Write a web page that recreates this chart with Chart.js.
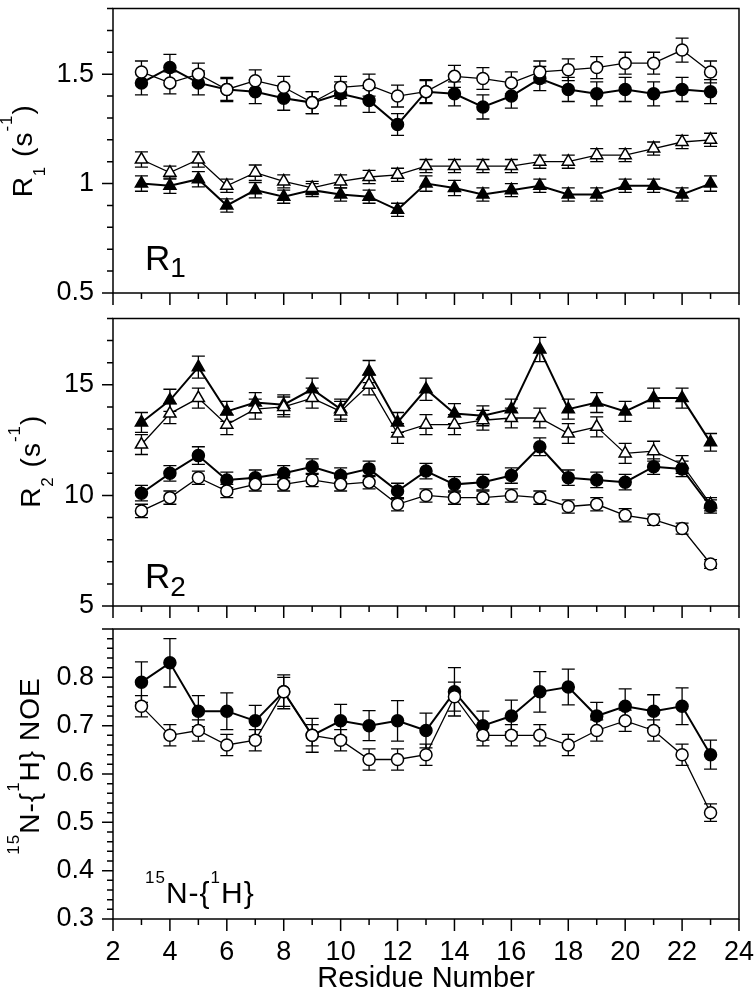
<!DOCTYPE html>
<html>
<head>
<meta charset="utf-8">
<script src="https://cdn.jsdelivr.net/npm/chart.js@4.4.1/dist/chart.umd.min.js"></script>
<style>
  html, body { margin: 0; padding: 0; background: #fff; }
  #wrap { position: relative; width: 756px; height: 993px; }
  canvas { position: absolute; left: 0; }
</style>
</head>
<body>
<div id="wrap">
  <canvas id="c1" width="756" height="310" style="top:0px"></canvas>
  <canvas id="c2" width="756" height="310" style="top:310px"></canvas>
  <canvas id="c3" width="756" height="373" style="top:620px"></canvas>
</div>
<script>
const residues = [3, 4, 5, 6, 7, 8, 9, 10, 11, 12, 13, 14, 15, 16, 17, 18, 19, 20, 21, 22, 23];

// R1 panel
const r1OpenCircle = [1.51, 1.46, 1.50, 1.43, 1.47, 1.44, 1.37, 1.44, 1.45, 1.40, 1.42, 1.49, 1.48, 1.46, 1.51, 1.52, 1.53, 1.55, 1.55, 1.61, 1.51];
const r1OpenCircleErr = [0.05, 0.05, 0.05, 0.05, 0.05, 0.05, 0.05, 0.05, 0.05, 0.05, 0.05, 0.05, 0.05, 0.05, 0.05, 0.05, 0.05, 0.05, 0.05, 0.055, 0.05];
const r1FilledCircle = [1.46, 1.53, 1.46, 1.43, 1.42, 1.39, 1.37, 1.41, 1.38, 1.27, 1.42, 1.41, 1.35, 1.40, 1.48, 1.43, 1.41, 1.43, 1.41, 1.43, 1.42];
const r1FilledCircleErr = [0.055, 0.06, 0.055, 0.055, 0.055, 0.055, 0.05, 0.055, 0.055, 0.05, 0.055, 0.055, 0.055, 0.055, 0.055, 0.055, 0.055, 0.055, 0.055, 0.055, 0.055];
const r1OpenTri = [1.11, 1.05, 1.11, 0.99, 1.05, 1.01, 0.98, 1.01, 1.03, 1.04, 1.08, 1.08, 1.08, 1.08, 1.10, 1.10, 1.13, 1.13, 1.16, 1.19, 1.20];
const r1OpenTriErr = [0.035, 0.03, 0.035, 0.03, 0.035, 0.03, 0.03, 0.03, 0.03, 0.03, 0.03, 0.03, 0.03, 0.03, 0.03, 0.03, 0.03, 0.03, 0.03, 0.03, 0.03];
const r1FilledTri = [1.00, 0.99, 1.02, 0.90, 0.97, 0.94, 0.97, 0.95, 0.94, 0.88, 1.00, 0.98, 0.95, 0.97, 0.99, 0.95, 0.95, 0.99, 0.99, 0.95, 1.00];
const r1FilledTriErr = [0.035, 0.035, 0.035, 0.03, 0.035, 0.03, 0.03, 0.03, 0.03, 0.03, 0.035, 0.035, 0.03, 0.03, 0.03, 0.03, 0.03, 0.03, 0.03, 0.03, 0.035];

// R2 panel
const r2OpenCircle = [9.3, 9.9, 10.8, 10.2, 10.5, 10.5, 10.7, 10.5, 10.6, 9.6, 10.0, 9.9, 9.9, 10.0, 9.9, 9.5, 9.6, 9.1, 8.9, 8.5, 6.9];
const r2OpenCircleErr = [0.3, 0.3, 0.3, 0.3, 0.3, 0.3, 0.3, 0.3, 0.3, 0.3, 0.3, 0.3, 0.3, 0.3, 0.3, 0.3, 0.3, 0.3, 0.25, 0.25, 0.2];
const r2FilledCircle = [10.1, 11.0, 11.8, 10.7, 10.8, 11.0, 11.3, 10.9, 11.2, 10.2, 11.1, 10.5, 10.6, 10.9, 12.2, 10.8, 10.7, 10.6, 11.3, 11.2, 9.5];
const r2FilledCircleErr = [0.35, 0.35, 0.4, 0.35, 0.35, 0.35, 0.35, 0.35, 0.35, 0.35, 0.35, 0.35, 0.35, 0.35, 0.4, 0.35, 0.35, 0.35, 0.35, 0.35, 0.3];
const r2OpenTri = [12.3, 13.7, 14.4, 13.2, 13.9, 14.0, 14.4, 13.8, 15.0, 12.8, 13.2, 13.2, 13.4, 13.5, 13.5, 12.8, 13.1, 11.9, 12.0, 11.4, 9.6];
const r2OpenTriErr = [0.45, 0.45, 0.45, 0.45, 0.45, 0.45, 0.45, 0.45, 0.45, 0.45, 0.45, 0.45, 0.45, 0.45, 0.45, 0.45, 0.45, 0.45, 0.45, 0.4, 0.3];
const r2FilledTri = [13.3, 14.3, 15.8, 13.8, 14.2, 14.1, 14.8, 13.9, 15.6, 13.3, 14.8, 13.7, 13.6, 13.9, 16.6, 13.9, 14.2, 13.8, 14.4, 14.4, 12.4];
const r2FilledTriErr = [0.45, 0.5, 0.5, 0.45, 0.45, 0.45, 0.5, 0.45, 0.5, 0.45, 0.5, 0.45, 0.45, 0.45, 0.55, 0.45, 0.45, 0.45, 0.45, 0.45, 0.4];

// NOE panel
const noeOpenCircle = [0.74, 0.68, 0.69, 0.66, 0.67, 0.77, 0.68, 0.67, 0.63, 0.63, 0.64, 0.76, 0.68, 0.68, 0.68, 0.66, 0.69, 0.71, 0.69, 0.64, 0.52];
const noeOpenCircleErr = [0.022, 0.022, 0.022, 0.022, 0.022, 0.03, 0.022, 0.022, 0.022, 0.022, 0.022, 0.03, 0.022, 0.022, 0.022, 0.022, 0.022, 0.022, 0.022, 0.022, 0.018];
const noeFilledCircle = [0.79, 0.83, 0.73, 0.73, 0.71, 0.77, 0.68, 0.71, 0.70, 0.71, 0.69, 0.77, 0.70, 0.72, 0.77, 0.78, 0.72, 0.74, 0.73, 0.74, 0.64];
const noeFilledCircleErr = [0.042, 0.05, 0.032, 0.038, 0.032, 0.035, 0.035, 0.034, 0.031, 0.042, 0.036, 0.05, 0.03, 0.033, 0.042, 0.037, 0.028, 0.036, 0.034, 0.038, 0.03];

// axis ranges and text
const xRange = { min: 2, max: 24, major: 2 };
const r1Axis = { min: 0.5, max: 1.8, major: 0.5, minor: 0.1, labelMax: 1.5 };
const r2Axis = { min: 5, max: 18, major: 5, minor: 1, labelMax: 15 };
const noeAxis = { min: 0.3, max: 0.9, major: 0.1, minor: 0.02, labelMax: 0.8 };
const xTitle = 'Residue Number';
// [text, 0 = normal, 1 = subscript, -1 = superscript]
const r1Title = [['R', 0], ['1', 1], [' (s', 0], ['-1', -1], [')', 0]];
const r2Title = [['R', 0], ['2', 1], [' (s', 0], ['-1', -1], [')', 0]];
const noeTitle = [['15', -1], ['N-{', 0], ['1', -1], ['H} NOE', 0]];
const r1Label = [['R', 0], ['1', 1]];
const r2Label = [['R', 0], ['2', 1]];
const noeLabel = [['15', -1], ['N-{', 0], ['1', -1], ['H}', 0]];

const FAM = '"Liberation Sans", Arial, Helvetica, sans-serif';

function drawRich(ctx, parts, x, y, st, align) {
  const fontOf = k => (k === 0 ? st.size : st.small) + 'px ' + FAM;
  ctx.letterSpacing = (st.spacing || 0) + 'px';
  let w = 0;
  parts.forEach(p => { ctx.font = fontOf(p[1]); w += ctx.measureText(p[0]).width; });
  let cx = align === 'center' ? x - w / 2 : x;
  ctx.textAlign = 'left';
  ctx.textBaseline = 'alphabetic';
  parts.forEach(p => {
    ctx.font = fontOf(p[1]);
    const dy = p[1] === 1 ? st.sub : (p[1] === -1 ? st.sup : 0);
    ctx.fillText(p[0], cx, y + dy);
    cx += ctx.measureText(p[0]).width;
  });
  ctx.letterSpacing = '0px';
}

const decor = {
  id: 'decor',
  beforeDatasetsDraw(chart, args, o) {
    const { ctx, scales: { x, y } } = chart;
    ctx.save();
    ctx.strokeStyle = '#000';
    ctx.lineWidth = 1.3;
    chart.data.datasets.forEach(ds => {
      ds.data.forEach((p, i) => {
        const e = ds.errors[i];
        const px = x.getPixelForValue(p.x);
        const t = y.getPixelForValue(p.y + e);
        const b = y.getPixelForValue(p.y - e);
        ctx.beginPath();
        ctx.moveTo(px, t); ctx.lineTo(px, b);
        ctx.moveTo(px - 6.5, t); ctx.lineTo(px + 6.5, t);
        ctx.moveTo(px - 6.5, b); ctx.lineTo(px + 6.5, b);
        ctx.stroke();
      });
    });
    ctx.restore();
  },
  afterDraw(chart, args, o) {
    const { ctx, chartArea: a, scales: { x, y } } = chart;
    const ax = o.axis;
    ctx.save();
    ctx.strokeStyle = '#000';
    ctx.fillStyle = '#000';
    ctx.lineWidth = 1.5;
    ctx.strokeRect(a.left, a.top, a.right - a.left, a.bottom - a.top);

    // y ticks
    ctx.beginPath();
    const n = Math.round((ax.max - ax.min) / ax.minor);
    for (let k = 0; k <= n; k++) {
      const py = y.getPixelForValue(ax.min + k * ax.minor);
      const len = k % 5 === 0 ? 11 : 6;
      ctx.moveTo(a.left - len, py); ctx.lineTo(a.left, py);
    }
    // x ticks
    for (let v = xRange.min; v <= xRange.max; v++) {
      const px = x.getPixelForValue(v);
      const len = v % xRange.major === 0 ? 12 : 6;
      ctx.moveTo(px, a.bottom); ctx.lineTo(px, a.bottom + len);
    }
    ctx.stroke();

    // y title, rotated
    ctx.save();
    ctx.translate(o.titleX, (a.top + a.bottom) / 2 + o.titleShift);
    ctx.rotate(-Math.PI / 2);
    drawRich(ctx, o.title, 0, 0, { size: 28, small: 17, sub: 13, sup: -20, spacing: 1 }, 'center');
    ctx.restore();

    // panel label
    drawRich(ctx, o.label, o.labelX, o.labelY, o.labelStyle, 'left');
    ctx.restore();
  }
};

function makeChart(id, cfg) {
  const tickFont = { family: FAM, size: 27 };
  return new Chart(document.getElementById(id), {
    type: 'line',
    data: {
      datasets: cfg.series.map(s => ({
        data: residues.map((r, i) => ({ x: r, y: s.values[i] })),
        errors: s.errors,
        borderColor: '#000',
        borderWidth: s.filled ? 2 : 1.3,
        pointStyle: s.shape,
        pointRadius: s.shape === 'triangle' ? 7 : 6,
        pointHoverRadius: s.shape === 'triangle' ? 7 : 6,
        pointBackgroundColor: s.filled ? '#000' : '#fff',
        pointBorderColor: '#000',
        pointBorderWidth: 1.5,
        fill: false,
        tension: 0,
        clip: false
      }))
    },
    options: {
      responsive: false,
      animation: false,
      events: [],
      layout: { padding: { top: cfg.padTop, right: 17, left: 0, bottom: 0 } },
      plugins: {
        legend: { display: false },
        tooltip: { enabled: false },
        decor: {
          axis: cfg.axis, title: cfg.title, titleX: cfg.titleX, titleShift: cfg.titleShift,
          label: cfg.label, labelX: 145, labelY: cfg.labelY, labelStyle: cfg.labelStyle
        }
      },
      scales: {
        x: {
          type: 'linear',
          min: xRange.min,
          max: xRange.max,
          grid: { display: false, drawTicks: false },
          border: { display: false },
          ticks: { display: cfg.showX, stepSize: xRange.major, padding: 17, color: '#000', font: tickFont, maxRotation: 0 },
          title: { display: cfg.showX, text: xTitle, color: '#000', font: { family: FAM, size: 29, lineHeight: 1 }, padding: 0 },
          afterFit(s) { s.height = cfg.xHeight; s.paddingLeft = 0; s.paddingRight = 0; }
        },
        y: {
          min: cfg.axis.min,
          max: cfg.axis.max,
          grid: { display: false, drawTicks: false },
          border: { display: false },
          ticks: {
            stepSize: cfg.axis.major,
            includeBounds: false,
            padding: 19,
            color: '#000',
            font: tickFont,
            callback: v => (v > cfg.axis.labelMax + 1e-9 ? '' : String(Math.round(v * 100) / 100))
          },
          afterFit(s) { s.width = 113; s.paddingTop = 0; s.paddingBottom = 0; }
        }
      }
    },
    plugins: [decor]
  });
}

makeChart('c1', {
  padTop: 3, xHeight: 17, showX: false, axis: r1Axis,
  title: r1Title, titleX: 32, titleShift: 0,
  label: r1Label, labelY: 270, labelStyle: { size: 35, small: 28, sub: 7, sup: 0 },
  series: [
    { values: r1OpenCircle, errors: r1OpenCircleErr, shape: 'circle', filled: false },
    { values: r1FilledCircle, errors: r1FilledCircleErr, shape: 'circle', filled: true },
    { values: r1OpenTri, errors: r1OpenTriErr, shape: 'triangle', filled: false },
    { values: r1FilledTri, errors: r1FilledTriErr, shape: 'triangle', filled: true }
  ]
});

makeChart('c2', {
  padTop: 6, xHeight: 14, showX: false, axis: r2Axis,
  title: r2Title, titleX: 40, titleShift: -1,
  label: r2Label, labelY: 278, labelStyle: { size: 35, small: 28, sub: 8, sup: 0 },
  series: [
    { values: r2OpenCircle, errors: r2OpenCircleErr, shape: 'circle', filled: false },
    { values: r2FilledCircle, errors: r2FilledCircleErr, shape: 'circle', filled: true },
    { values: r2OpenTri, errors: r2OpenTriErr, shape: 'triangle', filled: false },
    { values: r2FilledTri, errors: r2FilledTriErr, shape: 'triangle', filled: true }
  ]
});

makeChart('c3', {
  padTop: 9, xHeight: 74, showX: true, axis: noeAxis,
  title: noeTitle, titleX: 39, titleShift: -8,
  label: noeLabel, labelY: 283, labelStyle: { size: 30, small: 17, sub: 0, sup: -20, spacing: 1 },
  series: [
    { values: noeOpenCircle, errors: noeOpenCircleErr, shape: 'circle', filled: false },
    { values: noeFilledCircle, errors: noeFilledCircleErr, shape: 'circle', filled: true }
  ]
});
</script>
</body>
</html>
